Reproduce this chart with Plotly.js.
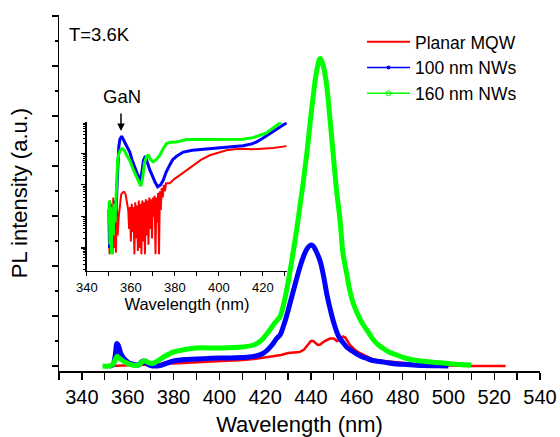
<!DOCTYPE html>
<html>
<head>
<meta charset="utf-8">
<script src="https://cdn.plot.ly/plotly-3.0.1.min.js"></script>
<style>html,body{margin:0;padding:0;background:#fff;}#chart{width:560px;height:437px;}</style>
</head>
<body>
<div id="chart"></div>
<script>
// ---------- Main spectrum (linear, a.u.) ----------
const seriesNames = ["Planar MQW", "100 nm NWs", "160 nm NWs"];

const redX = [352,356,360,365,370,375,380,385,390,395,400,405,410,415,420,424,427,430,433,435,437,439,440,441,442,443,444,446,448.3,450,451.3,452.5,454,455,457,459,461,463,465,467.3,470,472,475,478,482,487,492,500,510,525];
const redY = [0,0.01,0.01,0.02,0.03,0.04,0.05,0.06,0.07,0.08,0.09,0.1,0.12,0.14,0.17,0.2,0.22,0.26,0.27,0.28,0.33,0.45,0.5,0.5,0.46,0.42,0.43,0.5,0.55,0.55,0.5,0.52,0.59,0.57,0.42,0.33,0.27,0.23,0.18,0.13,0.11,0.1,0.08,0.07,0.05,0.03,0.02,0.01,0,0];

const blueX = [352,353.5,354.5,355.3,356,357,358,359,360,362,364,365,366,367,368,369,370,372,374,376,378,380,383,386,390,395,400,405,410,413,416,419,421,423,425,426.5,428,429.5,431,433,435,437,438.5,440,441,442,444,445.5,447,448.5,450,452,454,455.6,458,460,462,464.4,467,470,474,477.5,482,489,495,500];
const blueY = [0,0.02,0.2,0.45,0.4,0.25,0.17,0.12,0.08,0.04,0.02,0.03,0.08,0.1,0.06,0.03,0.01,0,0.01,0.04,0.07,0.1,0.12,0.13,0.14,0.15,0.16,0.16,0.17,0.18,0.2,0.25,0.32,0.42,0.55,0.62,0.8,1.02,1.28,1.62,1.95,2.22,2.36,2.42,2.4,2.32,2.1,1.8,1.42,1.12,0.86,0.6,0.47,0.38,0.3,0.24,0.19,0.15,0.11,0.09,0.06,0.04,0.03,0.01,0.005,0];

const greenX = [349,352,353.5,354.5,355.3,356.5,358,360,362,364,365,366.5,368,369,370.5,372,374,376,378,380,385,390,400,410,415,418,420,422,424,426.5,428,429.4,431,432.3,434,435.2,436.7,438.2,439.6,441,442.5,444,445.4,446.9,448.3,449.8,451.2,452.7,454,455.6,457,458.5,460,461.5,462.9,465,467.3,469.5,471.6,474,477.5,481,484.7,490,494.9,500,505,510];
const greenY = [0,0,0.03,0.12,0.19,0.15,0.1,0.05,0.02,0.01,0.03,0.09,0.1,0.07,0.05,0.07,0.13,0.19,0.24,0.28,0.33,0.36,0.36,0.38,0.42,0.5,0.6,0.72,0.85,0.99,1.22,1.52,1.93,2.3,2.8,3.2,3.7,4.25,4.85,5.4,5.9,6.15,6.0,5.59,4.95,4.19,3.5,2.92,2.25,1.85,1.5,1.25,1.08,0.93,0.82,0.68,0.52,0.42,0.35,0.28,0.22,0.16,0.12,0.09,0.07,0.05,0.03,0.02];

// ---------- Inset spectrum (log scale, a.u.) ----------
const insRedX = [350,350.3,350.6,351,351.3,351.7,352,352.4,352.8,353.2,353.6,354,354.5,355,355.6,356.3,357,357.6,358.2,358.8,359.2,359.6,360,360.4,360.8,361.2,361.6,362,362.4,362.8,363.2,363.6,364,364.4,364.8,365.2,365.6,366,366.4,366.8,367.2,367.6,368,368.4,368.8,369.2,369.6,370,370.4,370.8,371.2,371.6,372,372.4,372.8,373.2,373.6,374,374.5,375,375.5,376,377.7,380,382.3,385,388.3,392,395.9,400,403.5,407,411,415,418.6,424.7,430.8];
const insRedI = [16,0.63,32,0.8,20,0.63,40,1,25,0.7,16,2.5,10,25,50,58,60,50,32,16,4,20,1.6,25,3.2,20,0.63,28,2,22,0.8,32,1,25,0.63,32,1.6,28,0.63,35,2.5,32,1.26,40,4,35,2,40,10,45,0.63,40,6.3,56,0.63,63,16,79,40,100,63,112,112,158,204,282,427,631,871,1070,1259,1349,1413,1349,1380,1479,1698];

const insBlueX = [350,350.3,350.6,351,351.3,351.6,352,352.4,352.8,353.2,353.6,354,354.5,355,355.8,356.5,357.2,358,359.5,360.5,361.8,363.3,364.2,365,365.7,366.6,367.5,368.6,370,370.9,372.2,373.5,374.7,376,377.7,379,380.8,383.8,388,396,403.5,411,415,417,420,423.2,427,430.8];
const insBlueI = [16,1,25,3,10,1.6,20,4,32,10,63,400,1600,2800,3500,2800,2200,1800,1100,630,370,180,130,250,600,810,520,300,180,126,87,100,140,250,430,630,810,1100,1260,1410,1580,1740,2000,2290,3000,4270,6300,9300];

const insGreenX = [349.8,350.2,350.5,350.9,351.2,351.6,352,352.4,352.8,353.2,353.6,354,354.6,355.2,356,357,358,359.5,361,362.6,364,364.5,365.3,366.2,367.2,368,369,370.2,371.5,373.2,374.7,376.2,378,380.8,385.3,395.9,405,411,415.6,419,421.7,425,428.5];
const insGreenI = [6,32,1.3,20,0.63,16,2.5,25,6.3,40,100,630,1000,1260,1410,1260,890,600,316,180,100,91,160,500,830,870,630,540,630,870,1410,2040,2240,2290,2750,2750,2750,2820,3160,3800,4470,6600,10000];

const mainTicks = [340,360,380,400,420,440,460,480,500,520,540];
const insetTicks = [340,360,380,400,420];

const colors = ["#ff0000", "#0000ff", "#00ff00"];
const FONT = "Liberation Sans, Arial, sans-serif";

const traces = [
  {x: redX, y: redY, type: "scatter", mode: "lines", line: {color: colors[0], width: 2.5}, showlegend: false, xaxis: "x", yaxis: "y"},
  {x: blueX, y: blueY, type: "scatter", mode: "lines", line: {color: colors[1], width: 5, shape: "spline"}, showlegend: false, xaxis: "x", yaxis: "y"},
  {x: greenX, y: greenY, type: "scatter", mode: "lines", line: {color: colors[2], width: 5, shape: "spline"}, showlegend: false, xaxis: "x", yaxis: "y"},
  // inset
  {x: insRedX, y: insRedI, type: "scatter", mode: "lines", line: {color: colors[0], width: 2}, showlegend: false, xaxis: "x2", yaxis: "y2"},
  {x: insBlueX, y: insBlueI, type: "scatter", mode: "lines", line: {color: colors[1], width: 3}, showlegend: false, xaxis: "x2", yaxis: "y2"},
  {x: insGreenX, y: insGreenI, type: "scatter", mode: "lines", line: {color: colors[2], width: 3}, showlegend: false, xaxis: "x2", yaxis: "y2"},
  // legend entries
  {x: [null], y: [null], type: "scatter", mode: "lines", name: seriesNames[0], line: {color: colors[0], width: 2}, xaxis: "x", yaxis: "y"},
  {x: [null], y: [null], type: "scatter", mode: "lines+markers", name: seriesNames[1], line: {color: colors[1], width: 1.5}, marker: {color: colors[1], size: 4, symbol: "circle"}, xaxis: "x", yaxis: "y"},
  {x: [null], y: [null], type: "scatter", mode: "lines+markers", name: seriesNames[2], line: {color: colors[2], width: 1.5}, marker: {color: colors[2], size: 5, symbol: "circle-open"}, xaxis: "x", yaxis: "y"}
];

const axisCommon = {showgrid: false, zeroline: false, showline: true, linecolor: "#000", linewidth: 1.5, tickcolor: "#000", tickwidth: 1.2};

const layout = {
  width: 560, height: 437,
  margin: {l: 59, r: 20, t: 15, b: 66},
  paper_bgcolor: "#fff", plot_bgcolor: "rgba(0,0,0,0)",
  font: {family: FONT, color: "#000"},
  showlegend: true,
  legend: {x: 0.63, y: 0.975, xanchor: "left", yanchor: "top", bgcolor: "rgba(0,0,0,0)", font: {size: 17.5, family: FONT}, itemwidth: 43, tracegroupgap: 0},
  xaxis: Object.assign({}, axisCommon, {
    range: [330, 540], tickvals: mainTicks, ticks: "outside", ticklen: 7,
    minor: {dtick: 10, tick0: 330, ticks: "outside", ticklen: 7, tickcolor: "#000", tickwidth: 1.2},
    tickfont: {size: 20, family: FONT},
    title: {text: "Wavelength (nm)", font: {size: 22, family: FONT}, standoff: 12},
    anchor: "y", automargin: false
  }),
  yaxis: Object.assign({}, axisCommon, {
    range: [-0.1, 7.02], dtick: 1, tick0: 0, ticks: "outside", ticklen: 6, showticklabels: false,
    minor: {dtick: 0.5, tick0: 0, ticks: "outside", ticklen: 3, tickcolor: "#000", tickwidth: 1.2},
    title: {text: "PL intensity (a.u.)", font: {size: 22, family: FONT}, standoff: 18},
    anchor: "x", automargin: false
  }),
  xaxis3: Object.assign({}, axisCommon, {
    overlaying: "x", side: "top", anchor: "y", range: [0, 10], dtick: 1, ticks: "inside", ticklen: 4, showticklabels: false
  }),
  yaxis3: Object.assign({}, axisCommon, {
    overlaying: "y", side: "right", anchor: "x", range: [0, 10], dtick: 1, ticks: "inside", ticklen: 4, showticklabels: false
  }),
  xaxis2: Object.assign({}, axisCommon, {
    domain: [0.058, 0.474], anchor: "y2", range: [340, 431], tickvals: insetTicks, ticks: "outside", ticklen: 4,
    minor: {dtick: 10, tick0: 340, ticks: "outside", ticklen: 4, tickcolor: "#000", tickwidth: 1},
    tickfont: {size: 13, family: FONT},
    title: {text: "Wavelength (nm)", font: {size: 16.5, family: FONT}, standoff: 4},
    automargin: false
  }),
  yaxis2: Object.assign({}, axisCommon, {
    domain: [0.281, 0.699], anchor: "x2", type: "log", range: [-0.73, 3.99], dtick: 1, ticks: "outside", ticklen: 4, showticklabels: false,
    minor: {ticks: "outside", ticklen: 2, tickcolor: "#000", tickwidth: 1},
    automargin: false
  }),
  annotations: [
    {text: "T=3.6K", xref: "paper", yref: "paper", x: 0.017, y: 0.944, xanchor: "left", yanchor: "middle", showarrow: false, font: {size: 18.5, family: FONT}},
    {text: "GaN", xref: "paper", yref: "paper", x: 0.131, y: 0.770, xanchor: "center", yanchor: "middle", showarrow: false, font: {size: 18.5, family: FONT}},
    {text: "", xref: "x2", yref: "paper", x: 355.5, y: 0.674, showarrow: true, arrowhead: 2, arrowsize: 1, arrowwidth: 1.5, arrowcolor: "#000", ax: 0, ay: -19}
  ]
};

Plotly.newPlot("chart", traces, layout, {displayModeBar: false, staticPlot: true});
</script>
</body>
</html>
